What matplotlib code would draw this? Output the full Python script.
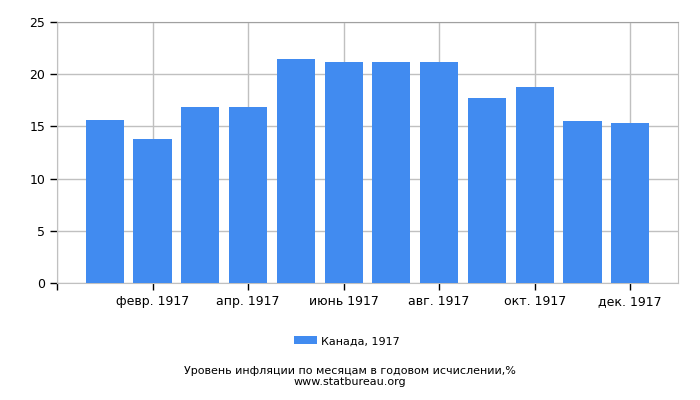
import matplotlib.pyplot as plt
import numpy as np

months = ["янв. 1917", "февр. 1917", "март 1917", "апр. 1917", "май 1917", "июнь 1917",
          "июль 1917", "авг. 1917", "сент. 1917", "окт. 1917", "нояб. 1917", "дек. 1917"]
values = [15.6, 13.8, 16.9, 16.9, 21.5, 21.2, 21.2, 21.2, 17.7, 18.8, 15.5, 15.3]
series_name = "Канада, 1917"
yticks = [0, 5, 10, 15, 20, 25]

plt.rcParams["font.family"] = "DejaVu Sans"
fig = plt.figure(figsize=(7, 4), dpi=100)
ax = fig.add_axes([0.0814, 0.2925, 0.8872, 0.6525])

x = np.arange(len(values))
ax.bar(x, values, width=0.8, color="#418bf0", label=series_name, zorder=3)

ax.set_xlim(-1, 12)
ax.set_ylim(0, 25)
ax.set_yticks(yticks)
tick_pos = [-1] + list(x[1::2])
ax.set_xticks(tick_pos)
ax.set_xticklabels([""] + months[1::2], fontsize=9)
ax.tick_params(axis="y", labelsize=9, length=5, width=1, colors="black")
ax.tick_params(axis="x", length=5, width=1, colors="black")
ax.grid(True, color="#c0c0c0", linewidth=1, zorder=0)

for s in ax.spines.values():
    s.set_color("#c0c0c0")
ax.spines["top"].set_color("#a0a0a0")

fig.legend(loc="center", bbox_to_anchor=(0.496, 0.147), frameon=False,
           fontsize=8, handlelength=2.0, handleheight=0.75, handletextpad=0.4)

fig.text(0.5, 0.072, "Уровень инфляции по месяцам в годовом исчислении,%",
         ha="center", va="center", fontsize=8)
fig.text(0.5, 0.046, "www.statbureau.org", ha="center", va="center", fontsize=8)

fig.savefig("out.png", dpi=100)
